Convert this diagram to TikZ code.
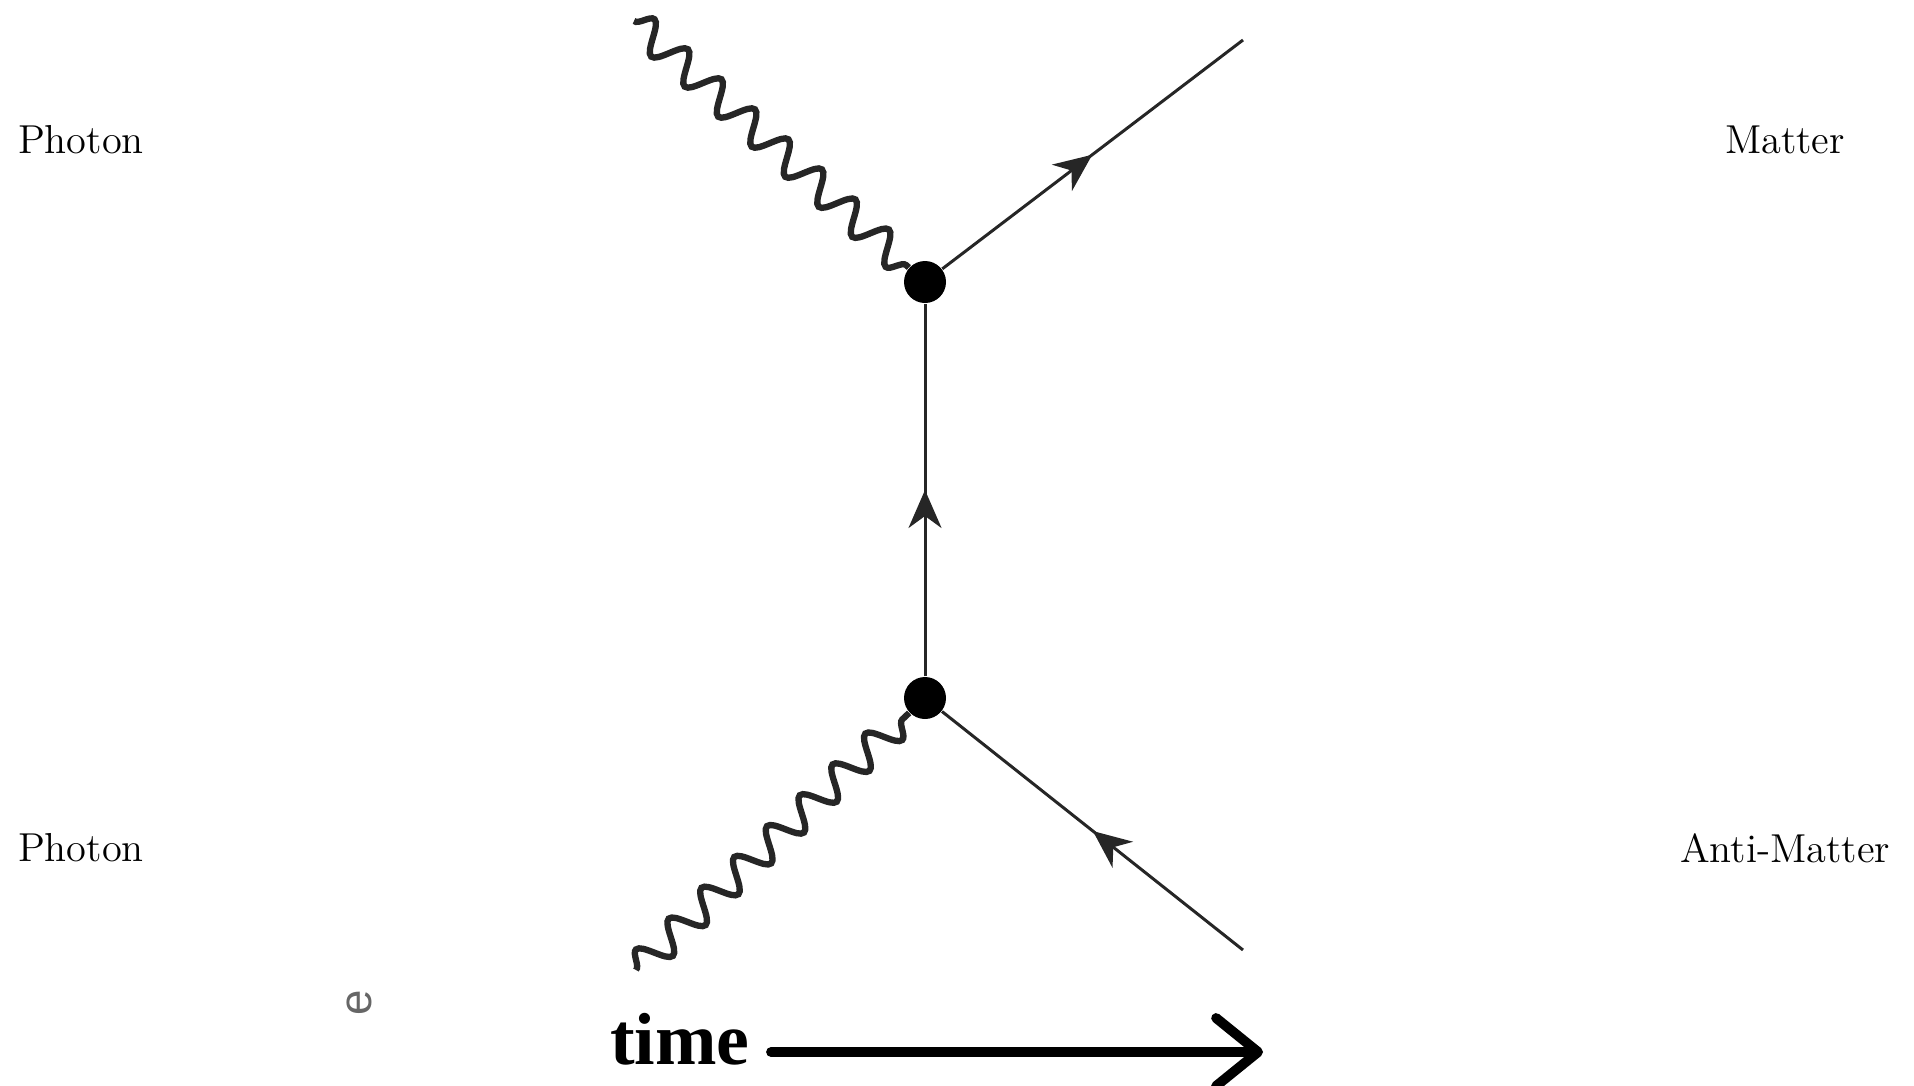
\documentclass[tikz,border=0pt]{standalone}
\usepackage{fontspec}
\newfontfamily\timesfont{Liberation Serif}
\newfontfamily\helvfont{Liberation Sans}
\usetikzlibrary{arrows.meta,decorations.pathmorphing,decorations.markings}
\begin{document}
\begin{tikzpicture}[
  vertex/.style={circle, fill=black, inner sep=0pt, minimum size=0.42cm},
  photon/.style={draw=black!85, line width=1.8pt, decorate,
    decoration={snake, segment length=0.45cm, amplitude=0.15cm}},
  fermion/.style={draw=black!85, line width=0.85pt, postaction={decorate},
    decoration={markings, mark=at position 0.5 with {\arrow{Stealth[length=3.8mm,width=3.3mm,inset=1.2mm]}}}},
  partname/.style={font=\fontsize{11.5}{14}\selectfont},
  timearrow/.style={line width=2.8pt, line cap=round, -{Straight Barb[length=4.2mm,width=6.8mm,round]}}
]
\useasboundingbox (0,0) rectangle (19.14,-10.85);
% vertices
\node[vertex] (vt) at (9.25,-2.82) {};
\node[vertex] (vb) at (9.25,-6.98) {};
% external ends
\coordinate (pt) at (6.34,-0.21);
\coordinate (pb) at (6.36,-9.70);
\coordinate (mt) at (12.43,-0.40);
\coordinate (mb) at (12.43,-9.50);
% labels
\node[partname] (l1) at (0.81,-1.40) {Photon};
\node[partname] (l2) at (0.81,-8.48) {Photon};
\node[partname] (l3) at (17.85,-1.40) {Matter};
\node[partname] (l4) at (17.85,-8.48) {Anti-Matter};
% lines
\draw[photon] (pt) -- (vt);
\draw[photon] (pb) -- (vb);
\draw[fermion] (vt) -- (mt);
\draw[fermion] (mb) -- (vb);
\draw[fermion] (vb) -- (vt);
% time axis
\node[text=black!60, rotate=90, font=\helvfont\fontsize{13}{15}\selectfont] (e) at (3.59,-10.03) {e};
\node[anchor=base, font=\timesfont\bfseries\fontsize{21}{24}\selectfont] (t) at (6.80,-10.64) {time};
\coordinate (t0) at (7.71,-10.52);
\coordinate (t1) at (12.63,-10.52);
\draw[timearrow] (t0) -- (t1);
\end{tikzpicture}
\end{document}
